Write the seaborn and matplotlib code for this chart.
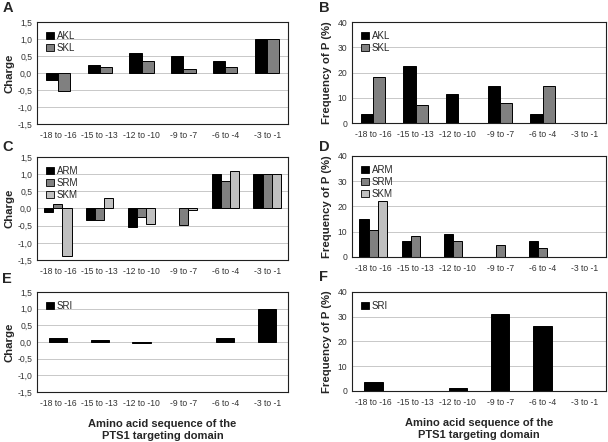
import pandas as pd
import matplotlib.pyplot as plt
import seaborn as sns
from matplotlib.ticker import FuncFormatter

# Data
regions = ["-18 to -16", "-15 to -13", "-12 to -10", "-9 to -7", "-6 to -4", "-3 to -1"]

charge_akl = [-0.21, 0.23, 0.60, 0.51, 0.34, 1.0]
charge_skl = [-0.52, 0.17, 0.34, 0.12, 0.17, 1.0]
freq_akl = [3.7, 22.4, 11.3, 14.8, 3.7, 0]
freq_skl = [18.4, 7.3, 0, 8.1, 14.8, 0]

charge_arm = [-0.09, -0.34, -0.55, 0, 1.0, 1.0]
charge_srm = [0.12, -0.34, -0.25, -0.49, 0.81, 1.0]
charge_skm = [-1.37, 0.30, -0.44, -0.05, 1.08, 1.0]
freq_arm = [15.0, 6.2, 9.2, 0, 6.2, 0]
freq_srm = [10.8, 8.4, 6.2, 4.9, 3.7, 0]
freq_skm = [22.2, 0, 0, 0, 0, 0]

charge_sri = [0.13, 0.07, -0.04, 0, 0.13, 1.0]
freq_sri = [3.8, 0, 1.35, 31.0, 26.2, 0]

colors = {"AKL": "#000000", "SKL": "#808080",
          "ARM": "#000000", "SRM": "#808080", "SKM": "#c0c0c0",
          "SRI": "#000000"}

sns.set_style("white")
plt.rcParams["font.family"] = ["Liberation Sans", "DejaVu Sans"]

fig = plt.figure(figsize=(6.08, 4.42), dpi=100)


def long_df(series):
    rows = []
    for name, vals in series.items():
        for r, v in zip(regions, vals):
            rows.append({"region": r, "value": v, "seq": name})
    return pd.DataFrame(rows)


def panel(rect, series, kind, width, letter, letter_xy, xlabel=False):
    ax = fig.add_axes(rect)
    df = long_df(series)
    names = list(series.keys())
    sns.barplot(data=df, x="region", y="value", hue="seq", order=regions,
                hue_order=names, palette=[colors[n] for n in names],
                width=width, edgecolor="black", linewidth=0.7,
                saturation=1, ax=ax)
    # empty bars should not leave a line behind
    for p in ax.patches:
        if abs(p.get_height()) < 1e-9:
            p.set_linewidth(0)
    if kind == "charge":
        ax.set_ylim(-1.5, 1.5)
        ax.set_yticks([-1.5, -1.0, -0.5, 0, 0.5, 1.0, 1.5])
        ax.yaxis.set_major_formatter(FuncFormatter(lambda v, p: f"{v:.1f}".replace(".", ",")))
        ax.set_ylabel("Charge", fontsize=8.2, fontweight="bold")
        ax.yaxis.set_label_coords(-0.088, 0.5)
    else:
        ax.set_ylim(0, 40)
        ax.set_yticks([0, 10, 20, 30, 40])
        ax.set_ylabel("Frequency of P (%)", fontsize=8.2, fontweight="bold")
        ax.yaxis.set_label_coords(-0.08, 0.5)
    ax.set_xlim(-0.5, 5.5)
    ax.grid(axis="y", color="#c8c8c8", linewidth=0.7)
    ax.set_axisbelow(True)
    for s in ax.spines.values():
        s.set_visible(True)
        s.set_color("#202020")
        s.set_linewidth(0.8)
    ax.tick_params(axis="both", labelsize=6.2, colors="#333333", length=2, width=0.6, pad=1.5)
    ax.tick_params(axis="x", length=0, pad=5)
    if xlabel:
        ax.set_xlabel("Amino acid sequence of the\nPTS1 targeting domain",
                      fontsize=8, fontweight="bold", labelpad=8, linespacing=1.3)
    else:
        ax.set_xlabel("")
    leg = ax.legend(loc="upper left", frameon=False, fontsize=7, handlelength=0.8,
                    handleheight=0.8, handletextpad=0.35, labelspacing=0.2,
                    borderaxespad=0.5, borderpad=0.4)
    for h in leg.legend_handles:
        h.set_edgecolor("black")
        h.set_linewidth(0.6)
    fig.text(letter_xy[0], letter_xy[1], letter, fontsize=10.5, fontweight="bold",
             va="top", ha="left")
    return ax


panel([0.0609, 0.7195, 0.4128, 0.2308], {"AKL": charge_akl, "SKL": charge_skl},
      "charge", 0.58, "A", (0.004, 0.998))
panel([0.579, 0.7217, 0.4177, 0.2285], {"AKL": freq_akl, "SKL": freq_skl},
      "freq", 0.58, "B", (0.524, 0.998))
panel([0.0609, 0.4118, 0.4128, 0.2330], {"ARM": charge_arm, "SRM": charge_srm, "SKM": charge_skm},
      "charge", 0.65, "C", (0.004, 0.683))
panel([0.579, 0.4186, 0.4177, 0.2285], {"ARM": freq_arm, "SRM": freq_srm, "SKM": freq_skm},
      "freq", 0.65, "D", (0.524, 0.683))
panel([0.0609, 0.1131, 0.4128, 0.2262], {"SRI": charge_sri},
      "charge", 0.44, "E", (0.004, 0.385), xlabel=True)
panel([0.579, 0.1154, 0.4177, 0.2240], {"SRI": freq_sri},
      "freq", 0.44, "F", (0.524, 0.390), xlabel=True)

fig.savefig("out.png", dpi=100)
